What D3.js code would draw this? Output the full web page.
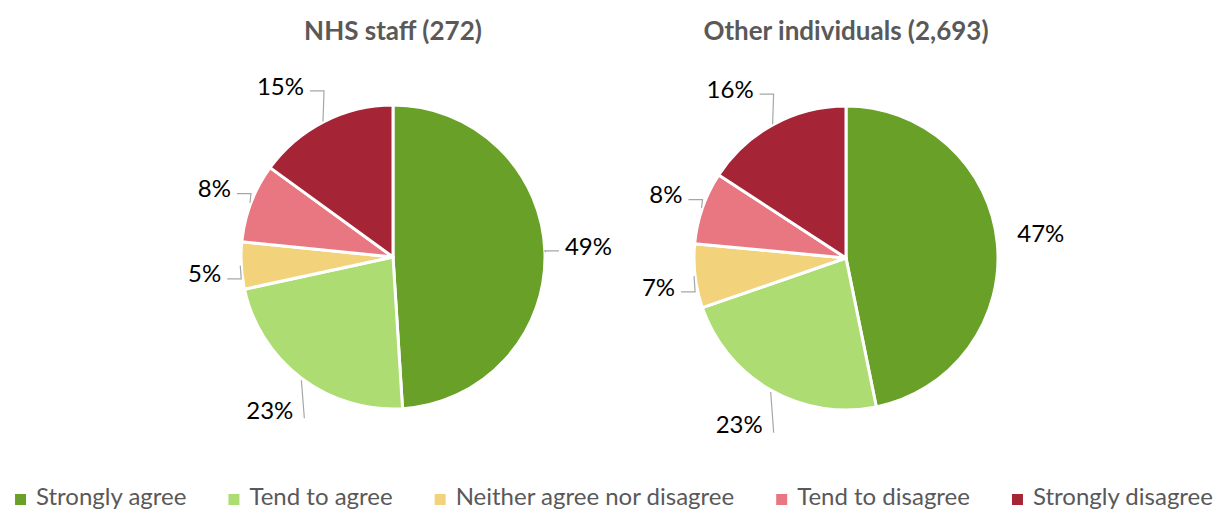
<html>
<head>
<meta charset="utf-8">
<script src="https://cdn.jsdelivr.net/npm/d3@7/dist/d3.min.js"></script>
<style>
  body { margin: 0; background: #fff; }
  text { font-family: Lato, "Liberation Sans", sans-serif; }
</style>
</head>
<body>
<div id="chart"></div>
<script>
// categories, in the order they go round each pie (clockwise from 12 o'clock)
var categories = ["Strongly agree", "Tend to agree", "Neither agree nor disagree", "Tend to disagree", "Strongly disagree"];
var colours = ["#68a028", "#addd72", "#f2d37b", "#e87782", "#a52536"];

// shares in percent
var nhsStaff = [49.0, 22.6, 5.0, 8.4, 15.0];
var otherIndividuals = [46.8, 22.9, 6.8, 7.7, 15.8];

var pieTitles = ["NHS staff (272)", "Other individuals (2,693)"];

var W = 1222, H = 509;
var svg = d3.select("#chart").append("svg").attr("width", W).attr("height", H);

var r = 152;
var centres = [[393, 257], [846, 258]];
var seriesList = [nhsStaff, otherIndividuals];
// excel left out the leader where the label sits right by the edge
var noLeader = [[], [0]];

var pie = d3.pie().sort(null).value(function (d) { return d; });
var arc = d3.arc().innerRadius(0).outerRadius(r);

seriesList.forEach(function (values, i) {
  var c = centres[i];

  // title over each pie
  svg.append("text")
    .attr("x", c[0]).attr("y", 40)
    .attr("text-anchor", "middle")
    .style("font-size", "26px").style("font-weight", "bold")
    .style("fill", "#595959")
    .text(pieTitles[i]);

  var g = svg.append("g").attr("transform", "translate(" + c[0] + "," + c[1] + ")");
  var arcs = pie(values);

  g.selectAll("path.slice")
    .data(arcs)
    .enter().append("path")
    .attr("class", "slice")
    .attr("d", arc)
    .attr("fill", function (d, k) { return colours[k]; })
    .attr("stroke", "#fff")
    .attr("stroke-width", 3)
    .attr("stroke-linejoin", "round");

  // data labels with little leader lines, roughly like excel's best fit
  arcs.forEach(function (a, k) {
    var mid = (a.startAngle + a.endAngle) / 2;
    var sx = Math.sin(mid), cy = -Math.cos(mid);
    var ex = sx * r, ey = cy * r;
    var ty = cy * (r + 40);
    var side = sx >= 0 ? 1 : -1;
    var below = cy > 0.7;
    var pts, tx;
    if (below) {
      // label hangs under the pie, line runs straight down to it
      pts = [[ex, ey + 2], [ex - 3 * side, ty + 8]];
      tx = ex - 8;
      side = -1;
    } else {
      // left side labels sit a touch low, right side a touch high
      if (Math.abs(cy) < 0.15) ty += side < 0 ? 6 : -5;
      pts = [[ex + side * 1, ey], [ex, ty + 5], [ex + side * 14, ty + 5]];
      tx = ex + side * 20;
    }
    if (noLeader[i].indexOf(k) < 0) {
      g.append("polyline")
        .attr("points", pts.map(function (p) { return p.join(","); }).join(" "))
        .attr("fill", "none")
        .attr("stroke", "#a6a6a6")
        .attr("stroke-width", 1.2);
    }

    g.append("text")
      .attr("x", tx).attr("y", ty)
      .attr("dy", "0.36em")
      .attr("text-anchor", side > 0 ? "start" : "end")
      .style("font-size", "24px")
      .style("fill", "#000")
      .text(Math.round(a.data) + "%");
  });
});

// legend along the bottom, centred
var legend = svg.append("g");
var items = legend.selectAll("g.item").data(categories).enter().append("g").attr("class", "item");
items.append("rect")
  .attr("width", 11).attr("height", 11)
  .attr("y", 494)
  .attr("fill", function (d, k) { return colours[k]; });
items.append("text")
  .attr("x", 21).attr("y", 505)
  .style("font-size", "24px")
  .style("fill", "#595959")
  .text(function (d) { return d; });

var gap = 42, xPos = 0, offs = [];
items.each(function () {
  offs.push(xPos);
  xPos += 21 + d3.select(this).select("text").node().getComputedTextLength() + gap;
});
var total = xPos - gap;
var startX = 614 - total / 2;
items.attr("transform", function (d, k) { return "translate(" + (startX + offs[k]) + ",0)"; });
</script>
</body>
</html>
